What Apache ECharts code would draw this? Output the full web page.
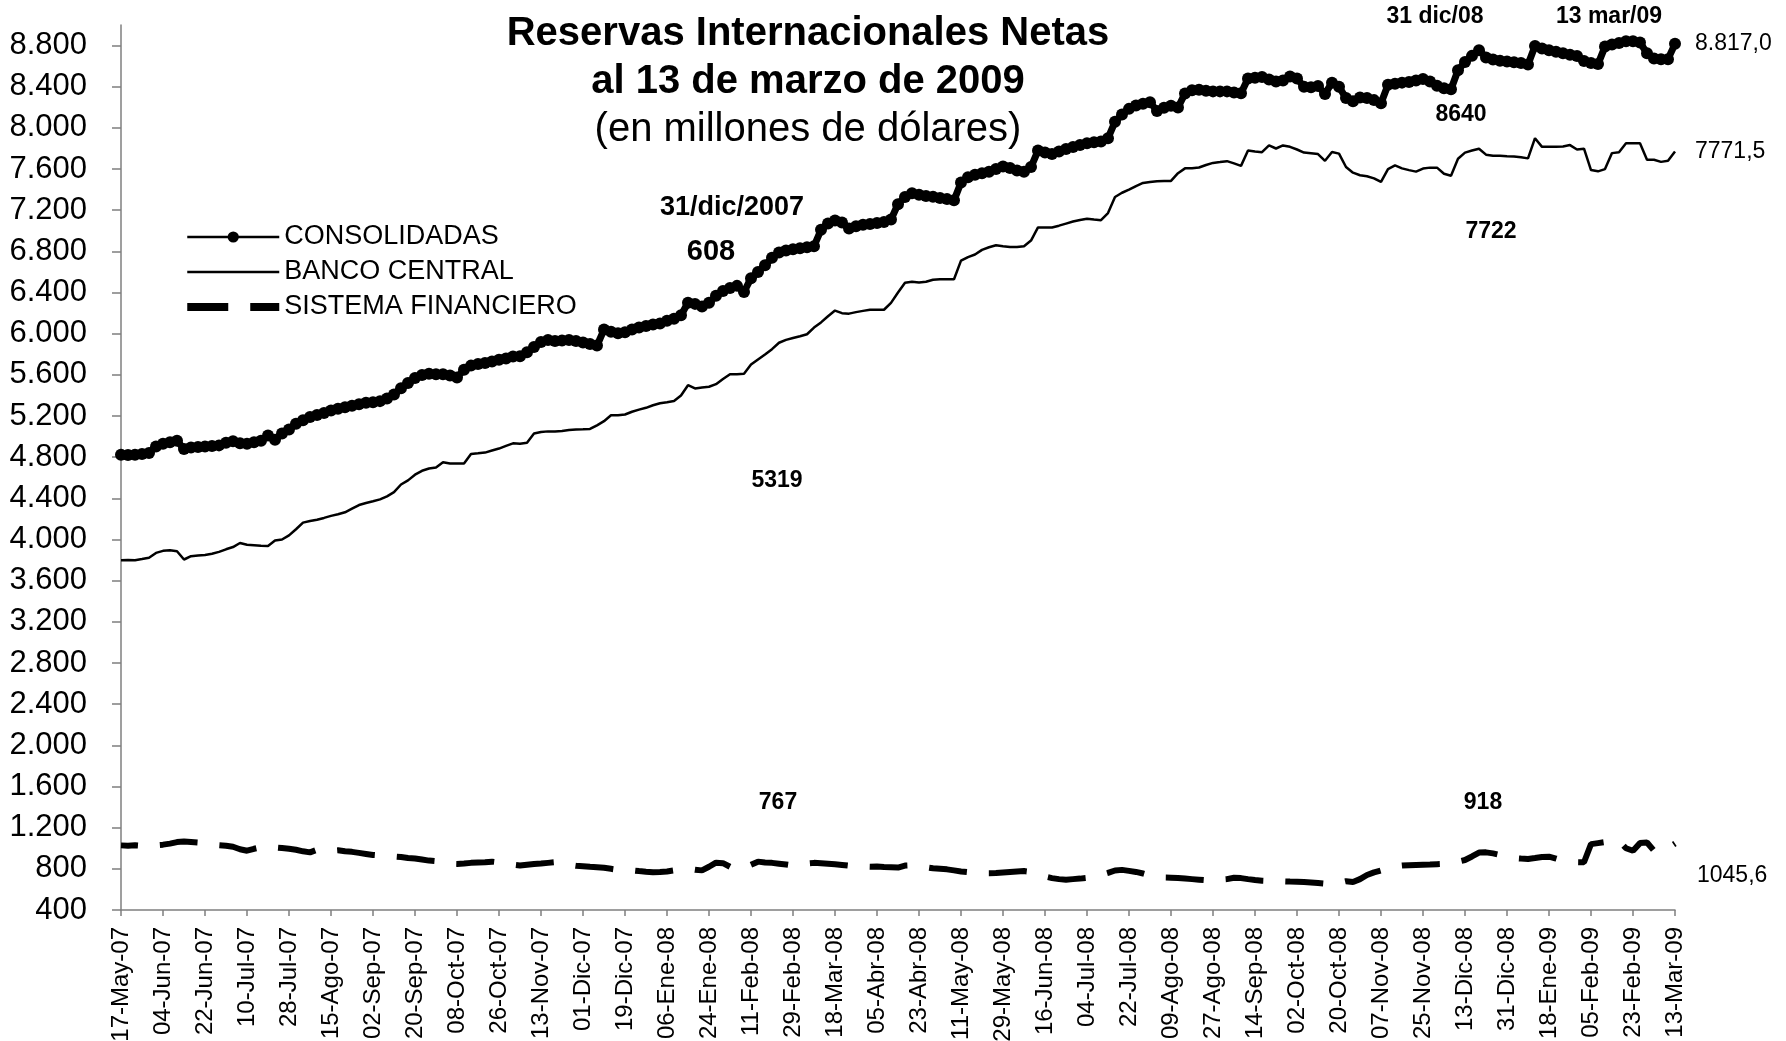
<!DOCTYPE html>
<html>
<head>
<meta charset="utf-8">
<title>Reservas Internacionales Netas</title>
<script src="https://cdn.jsdelivr.net/npm/echarts@6/dist/echarts.min.js"></script>
<style>
  * { margin: 0; padding: 0; }
  html, body { background: #fff; }
  #main { width: 1786px; height: 1041px; }
</style>
</head>
<body>
<div id="main"></div>
<script>
  var FONT = 'Liberation Sans, Arial, sans-serif';

  // one value every 3 days, from 17-May-07 to 13-Mar-09
  var startDate = Date.UTC(2007, 4, 17);
  var stepDays = 3;
  var meses = ['Ene', 'Feb', 'Mar', 'Abr', 'May', 'Jun', 'Jul', 'Ago', 'Sep', 'Oct', 'Nov', 'Dic'];

  var consolidadas = [
    4825, 4822, 4825, 4832, 4842, 4905, 4930, 4945, 4960, 4880, 4895, 4900,
    4905, 4910, 4915, 4940, 4955, 4935, 4930, 4945, 4960, 5010, 4970, 5030,
    5070, 5125, 5160, 5190, 5210, 5230, 5255, 5270, 5285, 5300, 5315, 5330,
    5335, 5345, 5370, 5410, 5470, 5520, 5570, 5600, 5610, 5605, 5607, 5595,
    5575, 5650, 5690, 5705, 5715, 5730, 5746, 5760, 5778, 5781, 5820, 5870,
    5920, 5940, 5930, 5935, 5938, 5930, 5915, 5900, 5885, 6040, 6020, 6005,
    6015, 6040, 6060, 6075, 6090, 6100, 6125, 6145, 6180, 6300, 6290, 6265,
    6300, 6370, 6415, 6445, 6465, 6405, 6540, 6600, 6665, 6738, 6790, 6808,
    6820, 6830, 6840, 6850, 7010, 7070, 7100, 7080, 7023, 7045, 7058, 7066,
    7075, 7085, 7110, 7259, 7329, 7364, 7350, 7338, 7330, 7318, 7308, 7296,
    7470, 7520, 7545, 7560, 7575, 7600, 7625, 7610, 7585, 7575, 7620, 7780,
    7760, 7746, 7770, 7795, 7815, 7835, 7852, 7860, 7868, 7900, 8059, 8130,
    8185, 8218, 8235, 8250, 8165, 8195, 8215, 8198, 8335, 8365, 8370, 8360,
    8355, 8355, 8355, 8345, 8337, 8480, 8488, 8494, 8470, 8450, 8460, 8500,
    8480, 8400, 8395, 8407, 8330, 8440, 8400, 8290, 8260, 8295, 8290, 8270,
    8240, 8420, 8430, 8440, 8445, 8460, 8475, 8450, 8410, 8385, 8375, 8560,
    8640, 8700, 8755, 8685, 8665, 8652, 8645, 8637, 8630, 8616, 8795, 8772,
    8755, 8740, 8725, 8710, 8698, 8650, 8630, 8620, 8790, 8810, 8824, 8842,
    8842, 8830, 8725, 8675, 8668, 8668, 8817.0
  ];

  var bancoCentral = [
    3799, 3800, 3799, 3810, 3823, 3870, 3890, 3896, 3886, 3806, 3838, 3845,
    3850, 3862, 3880, 3905, 3927, 3966, 3950, 3945, 3940, 3938, 3990, 4000,
    4040, 4100, 4164, 4180, 4192, 4210, 4230, 4245, 4265, 4300, 4335, 4355,
    4372, 4390, 4420, 4460, 4535, 4575, 4630, 4668, 4690, 4700, 4750, 4738,
    4738, 4738, 4832, 4838, 4845, 4865, 4884, 4910, 4935, 4930, 4940, 5030,
    5045, 5051, 5051, 5055, 5065, 5070, 5072, 5075, 5110, 5150, 5207, 5207,
    5215, 5242, 5262, 5280, 5305, 5325, 5335, 5346, 5400, 5500, 5468, 5478,
    5485, 5510, 5560, 5607, 5607, 5610, 5700, 5750, 5798, 5850, 5912, 5940,
    5958, 5975, 5995, 6060, 6110, 6170, 6225, 6200, 6195, 6210, 6222, 6233,
    6233, 6233, 6300, 6400, 6495, 6505, 6498, 6505, 6525, 6529, 6529, 6529,
    6710, 6745, 6770, 6815, 6840, 6860, 6850, 6842, 6842, 6850, 6905, 7033,
    7033, 7033, 7050, 7070, 7090, 7105, 7118, 7110, 7103, 7172, 7329, 7370,
    7400, 7435, 7465, 7475, 7482, 7485, 7485, 7560, 7607, 7607, 7615, 7640,
    7660, 7668, 7677, 7655, 7631, 7781, 7770, 7764, 7830, 7800, 7830, 7816,
    7790, 7760, 7753, 7746, 7680, 7765, 7750, 7620, 7565, 7540, 7530, 7510,
    7475, 7600, 7635, 7607, 7590, 7575, 7605, 7614, 7614, 7555, 7535, 7700,
    7760, 7780, 7798, 7740, 7729, 7729, 7725, 7722, 7715, 7704, 7900, 7816,
    7816, 7816, 7820, 7833, 7790, 7798, 7590, 7578, 7600, 7755, 7764, 7851,
    7851, 7851, 7690, 7690, 7670, 7680, 7771.5
  ];

  var sistemaFinanciero = [
    1028, 1025, 1030, 1025, 1020, 1030, 1035, 1045, 1060, 1065, 1060, 1055,
    1050, 1040, 1030, 1025, 1015, 990, 976, 995, 1010, 1020, 1008, 1002,
    995, 985, 970, 960, 985, 980, 975, 980, 970, 965, 955, 945,
    935, 930, 925, 920, 915, 905, 900, 890, 880, 874, 860, 850,
    848, 852, 858, 862, 865, 870, 862, 850, 840, 832, 840, 848,
    852, 858, 864, 850, 840, 830, 826, 820, 815, 810, 800, 790,
    788, 785, 778, 772, 767, 770, 775, 785, 795, 800, 790, 785,
    820, 860, 855, 820, 800, 810, 840, 870, 862, 858, 850, 842,
    832, 845, 852, 858, 855, 850, 845, 838, 830, 825, 822, 820,
    822, 818, 815, 812, 832, 835, 830, 815, 805, 800, 795, 785,
    775, 768, 760, 758, 758, 760, 765, 770, 775, 778, 770, 745,
    725, 710, 700, 695, 700, 705, 712, 720, 740, 760, 784, 790,
    780, 770, 755, 736, 725, 715, 714, 710, 705, 700, 695, 690,
    688, 695, 700, 714, 710, 700, 692, 685, 682, 680, 678, 676,
    675, 672, 668, 662, 656, 660, 665, 680, 672, 700, 740, 765,
    784, 810, 825, 832, 835, 838, 840, 842, 845, 848, 852, 870,
    886, 920, 958, 960, 950, 935, 918, 905, 900, 896, 905, 915,
    918, 900, 880, 870, 865, 864, 1040, 1050, 1060, 1066, 1070, 1000,
    976, 1050, 1056, 976, 990, 1000, 1045.6
  ];

  var yTicks = [400, 800, 1200, 1600, 2000, 2400, 2800, 3200, 3600, 4000, 4400,
                4800, 5200, 5600, 6000, 6400, 6800, 7200, 7600, 8000, 8400, 8800];

  var fechas = [];
  for (var i = 0; i < consolidadas.length; i++) {
    var d = new Date(startDate + i * stepDays * 86400000);
    var dd = ('0' + d.getUTCDate()).slice(-2);
    var yy = ('0' + (d.getUTCFullYear() % 100)).slice(-2);
    fechas.push(dd + '-' + meses[d.getUTCMonth()] + '-' + yy);
  }

  function miles(v) {
    return v >= 1000 ? Math.floor(v / 1000) + '.' + ('00' + (v % 1000)).slice(-3) : String(v);
  }
  function decimal(v, conPunto) {
    var s = v.toFixed(1).replace('.', ',');
    if (conPunto) s = s.replace(/^(\d)(\d{3})/, '$1.$2');
    return s;
  }

  function nota(text, x, y, size, bold, align) {
    return {
      type: 'text', x: x, y: y, z: 10,
      style: {
        text: text, fill: '#000', fontSize: size, fontFamily: FONT,
        fontWeight: bold ? 'bold' : 'normal',
        align: align || 'center', verticalAlign: 'middle'
      }
    };
  }

  var chart = echarts.init(document.getElementById('main'));
  var option = {
    animation: false,
    backgroundColor: '#fff',
    title: {
      text: 'Reservas Internacionales Netas\nal 13 de marzo de 2009',
      subtext: '(en millones de dólares)',
      left: 808, top: 10, textAlign: 'center', itemGap: 0, padding: 0,
      textStyle: { fontSize: 40, fontWeight: 'bold', lineHeight: 48, color: '#000', fontFamily: FONT },
      subtextStyle: { fontSize: 40, lineHeight: 48, color: '#000', fontFamily: FONT }
    },
    legend: {
      orient: 'vertical', left: 181, top: 217,
      itemWidth: 92, itemHeight: 14, itemGap: 5,
      lineStyle: { width: 2.5 },
      textStyle: { fontSize: 27, lineHeight: 30, color: '#000', fontFamily: FONT },
      data: [
        { name: 'CONSOLIDADAS' },
        { name: 'BANCO CENTRAL', icon: 'path://M0,0h92v2.5h-92z' },
        { name: 'SISTEMA FINANCIERO', icon: 'path://M0,0h41v8h-41z M63,0h29v8h-29z' }
      ]
    },
    grid: { left: 121, right: 111, top: 25, bottom: 131, outerBoundsMode: 'none' },
    xAxis: {
      type: 'category',
      data: fechas,
      boundaryGap: false,
      axisLine: { lineStyle: { color: '#7f7f7f', width: 1.5 } },
      axisTick: { interval: 5, length: 6, lineStyle: { color: '#7f7f7f', width: 1.5 } },
      axisLabel: { interval: 5, rotate: 90, margin: 17, fontSize: 24, color: '#000', fontFamily: FONT },
      splitLine: { show: false }
    },
    yAxis: {
      type: 'value',
      min: 400, max: 9000,
      axisLine: { show: true, lineStyle: { color: '#7f7f7f', width: 1.5 } },
      axisTick: { show: true, length: 9, customValues: yTicks, lineStyle: { color: '#7f7f7f', width: 1.5 } },
      axisLabel: { customValues: yTicks, margin: 34, fontSize: 31, color: '#000', fontFamily: FONT, formatter: miles },
      splitLine: { show: false }
    },
    series: [
      {
        name: 'CONSOLIDADAS', type: 'line', data: consolidadas, z: 4,
        color: '#000', symbol: 'circle', symbolSize: 12, showAllSymbol: true,
        lineStyle: { width: 7, color: '#000' }, itemStyle: { color: '#000' },
        endLabel: { show: true, distance: 20, fontSize: 23, color: '#000', fontFamily: FONT,
          formatter: function (p) { return decimal(p.value, true); } }
      },
      {
        name: 'BANCO CENTRAL', type: 'line', data: bancoCentral, z: 3,
        color: '#000', symbol: 'none',
        lineStyle: { width: 2.5, color: '#000' },
        endLabel: { show: true, distance: 20, fontSize: 23, color: '#000', fontFamily: FONT,
          formatter: function (p) { return decimal(p.value, false); } }
      },
      {
        name: 'SISTEMA FINANCIERO', type: 'line', data: sistemaFinanciero, z: 3,
        color: '#000', symbol: 'none',
        lineStyle: { width: 6, color: '#000', type: [38, 22], dashOffset: 21 },
        endLabel: { show: true, distance: 22, offset: [0, 32], fontSize: 23, color: '#000', fontFamily: FONT,
          formatter: function (p) { return decimal(p.value, false); } }
      }
    ],
    graphic: [
      nota('31/dic/2007', 732, 208, 27, true),
      nota('608', 711, 252, 29, true),
      nota('5319', 777, 481, 23, true),
      nota('767', 778, 803, 23, true),
      nota('31 dic/08', 1435, 17, 23, true),
      nota('13 mar/09', 1609, 17, 23, true),
      nota('8640', 1461, 115, 23, true),
      nota('7722', 1491, 232, 23, true),
      nota('918', 1483, 803, 23, true)
    ]
  };
  chart.setOption(option);
</script>
</body>
</html>
